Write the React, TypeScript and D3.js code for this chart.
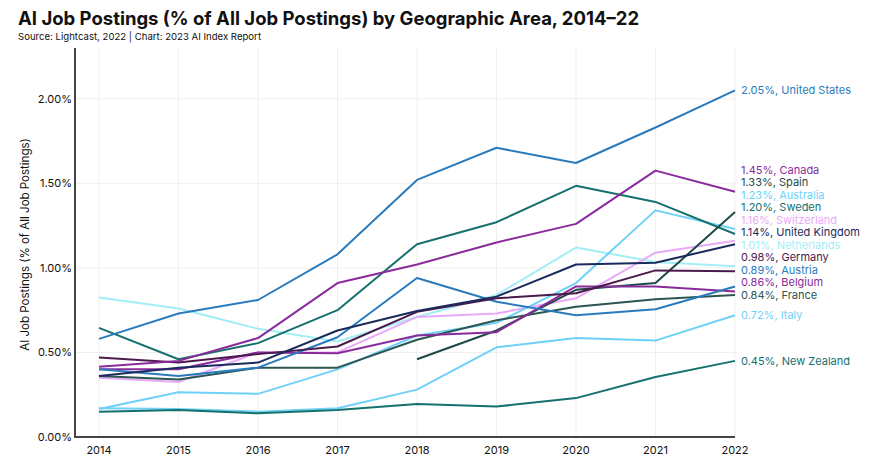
import { useRef, useEffect } from 'react'
import * as d3 from 'd3'

const years = [2014, 2015, 2016, 2017, 2018, 2019, 2020, 2021, 2022]
const yTicks = [0, 0.5, 1, 1.5, 2]

const countries = ['United States', 'Canada', 'Spain', 'Australia', 'Sweden', 'Switzerland', 'United Kingdom', 'Netherlands', 'Germany', 'Austria', 'Belgium', 'France', 'Italy', 'New Zealand']

const unitedStates = [0.58, 0.73, 0.81, 1.08, 1.52, 1.71, 1.62, 1.83, 2.05]
const canada = [0.415, 0.45, 0.585, 0.91, 1.02, 1.15, 1.26, 1.575, 1.45]
const spain = [null, null, null, null, 0.46, 0.63, 0.87, 0.91, 1.33]
const australia = [0.165, 0.265, 0.255, 0.40, 0.60, 0.675, 0.91, 1.34, 1.23]
const sweden = [0.645, 0.46, 0.555, 0.75, 1.14, 1.27, 1.485, 1.39, 1.20]
const switzerland = [0.35, 0.325, 0.50, 0.50, 0.71, 0.73, 0.82, 1.09, 1.16]
const unitedKingdom = [0.36, 0.41, 0.44, 0.63, 0.745, 0.83, 1.02, 1.03, 1.14]
const netherlands = [0.825, 0.76, 0.64, 0.565, 0.71, 0.84, 1.12, 1.035, 1.01]
const germany = [0.47, 0.44, 0.49, 0.535, 0.74, 0.82, 0.85, 0.985, 0.98]
const austria = [0.40, 0.36, 0.41, 0.59, 0.94, 0.80, 0.72, 0.755, 0.89]
const belgium = [0.40, 0.40, 0.50, 0.495, 0.60, 0.62, 0.89, 0.89, 0.86]
const france = [0.36, 0.34, 0.41, 0.41, 0.575, 0.69, 0.77, 0.815, 0.84]
const italy = [0.17, 0.165, 0.15, 0.17, 0.28, 0.53, 0.585, 0.57, 0.72]
const newZealand = [0.15, 0.16, 0.14, 0.16, 0.195, 0.18, 0.23, 0.355, 0.45]

const seriesValues = [unitedStates, canada, spain, australia, sweden, switzerland, unitedKingdom, netherlands, germany, austria, belgium, france, italy, newZealand]

const colors = ['#2a7bbd', '#8a2b9b', '#1f4848', '#6fd1f7', '#16706d', '#e9a9f7', '#1b2a5c', '#a3eef6', '#4b1a4d', '#2a7bbd', '#8a2b9b', '#2b5652', '#6fd1f7', '#16706d']

const W = 872
const H = 472

const App = () => {
  const svgRef = useRef(null)

  useEffect(() => {
    document.body.style.margin = '0'
    const svg = d3.select(svgRef.current)
    svg.selectAll('*').remove()

    const font = 'Inter, "Noto Sans", sans-serif'
    const x = d3.scaleLinear().domain([2014, 2022]).range([99, 735])
    const y = d3.scaleLinear().domain([0, 2.3]).range([437, 48])
    const axisLeft = 75

    // grid
    svg.append('g')
      .selectAll('line.v')
      .data(years)
      .join('line')
      .attr('x1', d => x(d)).attr('x2', d => x(d))
      .attr('y1', y(2.3)).attr('y2', y(0))
      .attr('stroke', '#efefef').attr('stroke-width', 1)

    svg.append('g')
      .selectAll('line.h')
      .data(yTicks.filter(d => d > 0))
      .join('line')
      .attr('x1', axisLeft).attr('x2', x(2022))
      .attr('y1', d => y(d)).attr('y2', d => y(d))
      .attr('stroke', '#efefef').attr('stroke-width', 1)

    // lines
    const line = d3.line()
      .defined(d => d[1] != null)
      .x(d => x(d[0]))
      .y(d => y(d[1]))

    const order = [7, 5, 3, 12, 13, 4, 11, 2, 10, 9, 8, 6, 1, 0]
    order.forEach(i => {
      svg.append('path')
        .datum(years.map((yr, j) => [yr, seriesValues[i][j]]))
        .attr('d', line)
        .attr('fill', 'none')
        .attr('stroke', colors[i])
        .attr('stroke-width', 2)
        .attr('stroke-linejoin', 'round')
    })

    // axes
    svg.append('line')
      .attr('x1', axisLeft).attr('x2', axisLeft)
      .attr('y1', y(2.3)).attr('y2', y(0) + 1)
      .attr('stroke', '#444').attr('stroke-width', 2)
    svg.append('line')
      .attr('x1', axisLeft - 1).attr('x2', x(2022))
      .attr('y1', y(0)).attr('y2', y(0))
      .attr('stroke', '#444').attr('stroke-width', 2)

    svg.append('g')
      .selectAll('text')
      .data(yTicks)
      .join('text')
      .attr('x', axisLeft - 3)
      .attr('y', d => y(d))
      .attr('dy', '0.35em')
      .attr('text-anchor', 'end')
      .attr('font-family', font)
      .attr('font-size', 11)
      .attr('fill', '#111')
      .text(d => d3.format('.2f')(d) + '%')

    svg.append('g')
      .selectAll('text')
      .data(years)
      .join('text')
      .attr('x', d => x(d))
      .attr('y', y(0) + 17)
      .attr('text-anchor', 'middle')
      .attr('font-family', font)
      .attr('font-size', 11)
      .attr('fill', '#111')
      .text(d => d)

    svg.append('text')
      .attr('transform', `translate(29, ${(y(0) + y(2.3)) / 2 + 2}) rotate(-90)`)
      .attr('text-anchor', 'middle')
      .attr('font-family', font)
      .attr('font-size', 11.5)
      .attr('fill', '#111')
      .text('AI Job Postings (% of All Job Postings)')

    // end labels, stacked upward so they do not overlap
    const last = seriesValues.map((v, i) => ({ i, v: v[v.length - 1] }))
      .sort((a, b) => a.v - b.v)
    let prev = Infinity
    const gap = 12.5
    last.forEach(d => {
      const ideal = y(d.v)
      d.ly = Math.min(ideal, prev - gap)
      prev = d.ly
    })
    svg.append('g')
      .selectAll('text')
      .data(last)
      .join('text')
      .attr('x', x(2022) + 6)
      .attr('y', d => d.ly)
      .attr('dy', '0.35em')
      .attr('font-family', font)
      .attr('font-size', 11)
      .attr('fill', d => colors[d.i])
      .text(d => `${d3.format('.2f')(d.v)}%, ${countries[d.i]}`)

    // title
    svg.append('text')
      .attr('x', 18).attr('y', 25)
      .attr('font-family', font)
      .attr('font-size', 18.5)
      .attr('font-weight', 700)
      .attr('fill', '#111')
      .text('AI Job Postings (% of All Job Postings) by Geographic Area, 2014–22')
    svg.append('text')
      .attr('x', 18).attr('y', 40)
      .attr('font-family', font)
      .attr('font-size', 9.6)
      .attr('fill', '#111')
      .text('Source: Lightcast, 2022 | Chart: 2023 AI Index Report')
  }, [])

  return (
    <svg ref={svgRef} width={W} height={H} style={{ position: 'absolute', left: 0, top: 0, background: '#fff' }} />
  )
}

export default App
